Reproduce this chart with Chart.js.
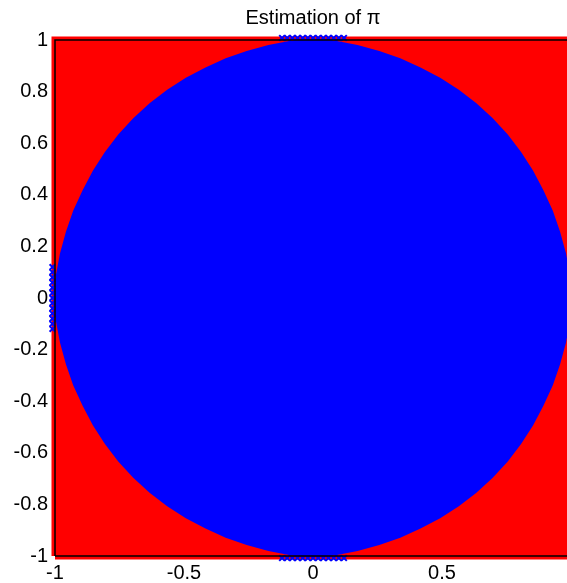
<!DOCTYPE html>
<html>
<head>
<meta charset="utf-8">
<title>Estimation of pi</title>
<script src="https://cdn.jsdelivr.net/npm/chart.js"></script>
<style>
    body { margin: 0; overflow: hidden; background: #fff; }
    #wrap { width: 600px; height: 583px; }
</style>
</head>
<body>
<div id="wrap"><canvas id="pi-chart"></canvas></div>
<script>
/*DATA*/
// axis ticks
const xTicks = [-1, -0.5, 0, 0.5, 1];
const yTicks = [-1, -0.8, -0.6, -0.4, -0.2, 0, 0.2, 0.4, 0.6, 0.8, 1];

// red points fill the whole square
const outsideX = [-1, 1, 1, -1, -1];
const outsideY = [-1, -1, 1, 1, -1];

// edge of the blue region (points inside the circle)
const insideX = [1.000, 0.993, 0.977, 0.954, 0.926, 0.890, 0.850, 0.804, 0.752, 0.694,
    0.631, 0.563, 0.491, 0.415, 0.337, 0.256, 0.172, 0.087, 0.000,
    -0.087, -0.172, -0.256, -0.337, -0.415, -0.491, -0.563, -0.631, -0.694,
    -0.752, -0.804, -0.850, -0.890, -0.926, -0.954, -0.977, -0.993, -1.000,
    -0.993, -0.977, -0.954, -0.926, -0.890, -0.850, -0.804, -0.752, -0.694,
    -0.631, -0.563, -0.491, -0.415, -0.337, -0.256, -0.172, -0.087, 0.000,
    0.087, 0.172, 0.256, 0.337, 0.415, 0.491, 0.563, 0.631, 0.694,
    0.752, 0.804, 0.850, 0.890, 0.926, 0.954, 0.977, 0.993, 1.000];
const insideY = [0.000, 0.087, 0.172, 0.256, 0.337, 0.415, 0.491, 0.563, 0.631, 0.694,
    0.752, 0.804, 0.850, 0.890, 0.926, 0.954, 0.977, 0.993, 1.000,
    0.993, 0.977, 0.954, 0.926, 0.890, 0.850, 0.804, 0.752, 0.694,
    0.631, 0.563, 0.491, 0.415, 0.337, 0.256, 0.172, 0.087, 0.000,
    -0.087, -0.172, -0.256, -0.337, -0.415, -0.491, -0.563, -0.631, -0.694,
    -0.752, -0.804, -0.850, -0.890, -0.926, -0.954, -0.977, -0.993, -1.000,
    -0.993, -0.977, -0.954, -0.926, -0.890, -0.850, -0.804, -0.752, -0.694,
    -0.631, -0.563, -0.491, -0.415, -0.337, -0.256, -0.172, -0.087, 0.000];

// blue x markers sticking out where the circle touches the box
const edgeX = [-0.12, -0.10, -0.08, -0.06, -0.04, -0.02, 0, 0.02, 0.04, 0.06, 0.08, 0.10, 0.12,
    -0.12, -0.10, -0.08, -0.06, -0.04, -0.02, 0, 0.02, 0.04, 0.06, 0.08, 0.10, 0.12,
    -1.01, -1.01, -1.01, -1.01, -1.01, -1.01, -1.01, -1.01, -1.01, -1.01, -1.01, -1.01, -1.01];
const edgeY = [1.008, 1.008, 1.008, 1.008, 1.008, 1.008, 1.008, 1.008, 1.008, 1.008, 1.008, 1.008, 1.008,
    -1.008, -1.008, -1.008, -1.008, -1.008, -1.008, -1.008, -1.008, -1.008, -1.008, -1.008, -1.008, -1.008,
    -0.12, -0.10, -0.08, -0.06, -0.04, -0.02, 0, 0.02, 0.04, 0.06, 0.08, 0.10, 0.12];

function toPoints(xs, ys) {
    const pts = [];
    for (let i = 0; i < xs.length; i++) {
        pts.push({ x: xs[i], y: ys[i] });
    }
    return pts;
}

const font = { family: "'Liberation Sans', Arial, sans-serif", size: 20 };

/*CHART*/
new Chart(document.getElementById("pi-chart"), {
    type: 'line',
    data: {
        datasets: [
            {
                // axes box on top
                data: toPoints(outsideX, outsideY),
                borderColor: '#000',
                borderWidth: 1.5,
                fill: false,
                pointRadius: 0,
                order: 0,
                clip: false
            },
            {
                data: toPoints(edgeX, edgeY),
                showLine: false,
                pointStyle: 'crossRot',
                pointRadius: 4,
                pointBorderWidth: 2,
                pointBorderColor: '#0000ff',
                pointBackgroundColor: '#0000ff',
                order: 1,
                clip: false
            },
            {
                data: toPoints(insideX, insideY),
                borderColor: '#0000ff',
                backgroundColor: '#0000ff',
                borderWidth: 2,
                fill: 'shape',
                pointRadius: 0,
                order: 2,
                clip: false
            },
            {
                data: toPoints(outsideX, outsideY),
                borderColor: '#ff0000',
                backgroundColor: '#ff0000',
                borderWidth: 7,
                borderJoinStyle: 'miter',
                fill: 'shape',
                pointRadius: 0,
                order: 3,
                clip: false
            }
        ]
    },
    options: {
        responsive: true,
        maintainAspectRatio: false,
        animation: false,
        layout: {
            padding: { right: 29 }
        },
        plugins: {
            legend: { display: false },
            tooltip: { enabled: false },
            title: {
                display: true,
                text: 'Estimation of \u03c0',
                color: '#000',
                fullSize: false,
                font: { family: font.family, size: 20, weight: 'normal', lineHeight: 1 },
                padding: { top: 8, bottom: 12 }
            }
        },
        scales: {
            x: {
                type: 'linear',
                min: -1,
                max: 1,
                grid: { display: false, drawTicks: false },
                border: { display: false },
                afterBuildTicks: (scale) => {
                    scale.ticks = xTicks.map(v => ({ value: v }));
                },
                afterFit: (scale) => {
                    scale.height = 27;
                },
                ticks: {
                    color: '#000',
                    font: font,
                    padding: 5,
                    maxRotation: 0,
                    autoSkip: false,
                    callback: (v) => String(v)
                }
            },
            y: {
                type: 'linear',
                min: -1,
                max: 1,
                grid: { display: false, drawTicks: false },
                border: { display: false },
                afterBuildTicks: (scale) => {
                    scale.ticks = yTicks.map(v => ({ value: v }));
                },
                afterFit: (scale) => {
                    scale.width = 55;
                },
                ticks: {
                    color: '#000',
                    font: font,
                    padding: 7,
                    autoSkip: false,
                    callback: (v) => String(v)
                }
            }
        }
    }
});
</script>
</body>
</html>
